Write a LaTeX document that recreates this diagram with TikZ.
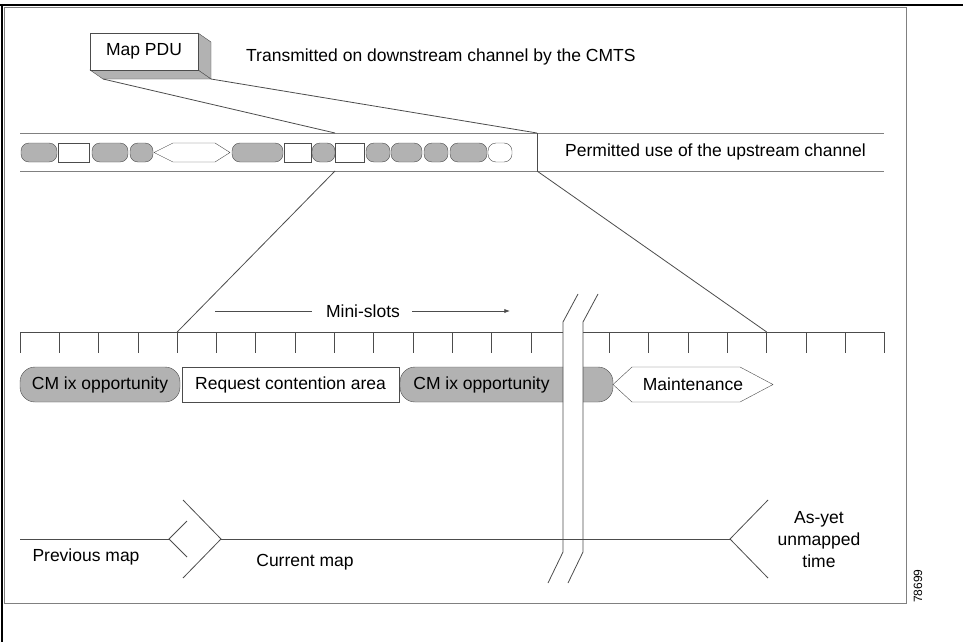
\documentclass[tikz,border=0pt]{standalone}
\usepackage{fontspec}
\setmainfont{Liberation Sans}
\usepackage{xcolor}
\usetikzlibrary{positioning,arrows.meta}
\definecolor{ln}{gray}{0.3}
\definecolor{fl}{gray}{0.7}

\begin{document}
\begin{tikzpicture}[x=1pt,y=-1pt,
  t/.style={font=\fontsize{17.5}{22}\selectfont,inner sep=0pt},
  g/.style={draw=ln,fill=fl,rounded corners=8pt,minimum height=19pt,inner sep=0pt},
  w/.style={draw=ln,fill=white,minimum height=19pt,inner sep=0pt},
  l/.style={draw=ln,line width=0.8pt},
  a/.style={-{Latex[length=2mm]},draw=ln,line width=0.8pt}]
\useasboundingbox (0,0) rectangle (963,642);
% frame
\draw[gray,line width=1pt] (4,8) rectangle (906,603);
\draw[black,line width=2.5pt] (0,5) -- (963,5);
\draw[black,line width=2pt] (2,4) -- (2,642);
% map pdu box
\filldraw[fill=fl,draw=ln] (198,33) -- (211,42) -- (211,79) -- (198,70) -- cycle;
\filldraw[fill=fl,draw=ln] (90,70) -- (198,70) -- (211,79) -- (103,79) -- cycle;
\node[t,draw=ln,fill=white,minimum width=108pt,minimum height=37pt] (pdu) at (144,51.5) {Map PDU};
\coordinate (pduL) at (103,79);
\coordinate (pduR) at (211,79);
\node[t,anchor=west] (down) at (246,57) {Transmitted on downstream channel by the CMTS};
% upstream channel
\draw[gray,line width=1pt] (20,133) -- (884,133);
\draw[gray,line width=1pt] (20,171) -- (884,171);
\coordinate (zA) at (335,133);
\coordinate (zB) at (537,133);
\coordinate (zC) at (335,171);
\coordinate (zD) at (537,171);
\draw[l] (zB) -- (zD);
\node[t,anchor=west] (up) at (565,152) {Permitted use of the upstream channel};
\draw[l] (pduL) -- (zA);
\draw[l] (pduR) -- (zB);
\node[g,minimum width=36pt] (b1) at (39,152.5) {};
\node[w,minimum width=31pt] (b2) at (73.5,152.5) {};
\node[g,minimum width=36pt] (b3) at (110,152.5) {};
\node[g,minimum width=23pt] (b4) at (141.5,152.5) {};
\draw[draw=ln,fill=white] (154,152.5) -- (173,143) -- (215,143) -- (230,152.5) -- (215,162) -- (173,162) -- cycle;
\node[g,minimum width=51pt] (b6) at (257.5,152.5) {};
\node[w,minimum width=27pt] (b7) at (297.5,152.5) {};
\node[g,minimum width=23pt] (b8) at (323.5,152.5) {};
\node[w,minimum width=29pt] (b9) at (349.5,152.5) {};
\node[g,minimum width=24pt] (b10) at (378,152.5) {};
\node[g,minimum width=31pt] (b11) at (406.5,152.5) {};
\node[g,minimum width=24pt] (b12) at (436,152.5) {};
\node[g,minimum width=37pt] (b13) at (468.5,152.5) {};
\node[g,fill=white,minimum width=24pt] (b14) at (500,152.5) {};
% mini-slots
\node[t] (ms) at (363,311) {Mini-slots};
\draw[l] (ms.west) ++(-14,0) -- (215,311);
\draw[a] (ms.east) ++(12,0) -- (510,311);
\draw[l] (20,332) -- (563,332);
\draw[l] (583,332) -- (884,332);
\foreach \k in {0,...,13} {\draw[l] (20+39.3*\k,332) -- (20+39.3*\k,353);}
\foreach \k in {15,...,22} {\draw[l] (20+39.3*\k,332) -- (20+39.3*\k,353);}
\coordinate (t4) at (177.2,332);
\coordinate (t19) at (766.7,332);
\draw[l] (zC) -- (t4);
\draw[l] (zD) -- (t19);
% current map
\node[t,draw=ln,fill=fl,rounded corners=15pt,minimum width=160pt,minimum height=35pt] (cm1) at (100,384.5) {CM ix opportunity};
\node[t,draw=ln,fill=white,minimum width=217pt,minimum height=35pt] (req) at (290.5,384.5) {Request contention area};
\filldraw[fill=fl,draw=ln,rounded corners=15pt] (563,367) -- (400,367) -- (400,402) -- (563,402);
\node[t] (cm2) at (481.5,384.5) {CM ix opportunity};
\filldraw[fill=fl,draw=ln,rounded corners=15pt] (583,367) -- (613,367) -- (613,402) -- (583,402);
\draw[draw=ln,fill=white] (613,384.5) -- (632,367) -- (740,367) -- (773,384.5) -- (740,402) -- (632,402) -- cycle;
\node[t] (mnt) at (693,384.5) {Maintenance};
% break
\draw[l] (578,294) -- (563,322) -- (563,552) -- (548,583);
\draw[l] (598,294) -- (583,322) -- (583,552) -- (568,583);
% time line
\coordinate (prevE) at (169,539);
\coordinate (curS) at (221,539);
\coordinate (curE) at (730,539);
\draw[l] (20,539) -- (prevE);
\draw[l] (187,521) -- (prevE) -- (187,557);
\draw[l] (183,500) -- (curS) -- (183,578);
\draw[l] (curS) -- (curE);
\draw[l] (768,500) -- (curE) -- (768,578);
\node[t] (prev) at (86,557) {Previous map};
\node[t] (cur) at (305,562) {Current map};
\node[t,align=center] (asyet) at (819,540) {As-yet\\unmapped\\time};
\node[font=\fontsize{12}{14}\selectfont,rotate=90,inner sep=0pt] (fig) at (918,586) {78699};
\end{tikzpicture}
\end{document}
